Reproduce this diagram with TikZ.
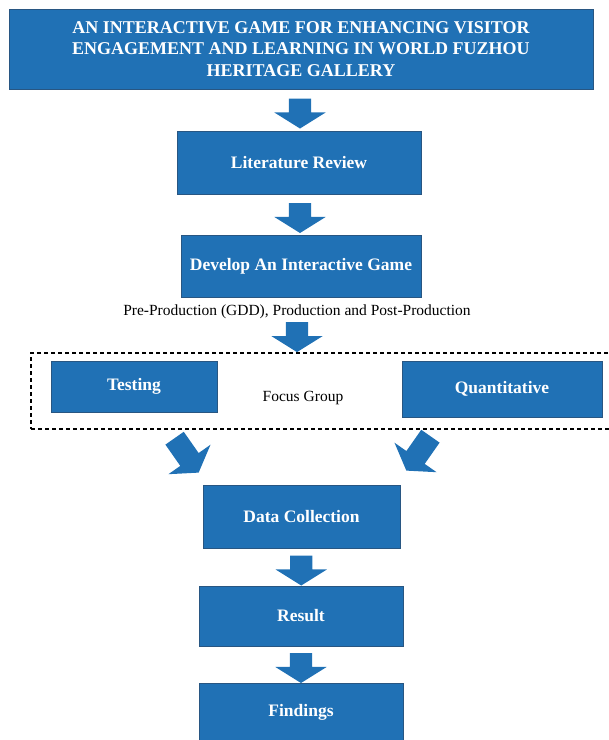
\documentclass[tikz,border=0pt]{standalone}
\usepackage{fontspec}
\setmainfont{Liberation Serif}
\usetikzlibrary{calc,shapes.arrows}
\definecolor{boxblue}{RGB}{32,113,181}
\definecolor{boxline}{RGB}{40,86,130}
\begin{document}
\begin{tikzpicture}[x=1pt,y=-1pt,
    box/.style={draw=boxline, fill=boxblue, text=white, inner sep=0pt, align=center,
      font=\fontsize{17.5}{21.5}\selectfont\bfseries},
    blockarrow/.style={single arrow, fill=boxblue, draw=none, inner xsep=0pt, inner ysep=11pt,
      minimum height=30, minimum width=51, single arrow head extend=14.5,
      single arrow tip angle=116},
    note/.style={font=\fontsize{15.5}{18}\selectfont}]
  \useasboundingbox (0,0) rectangle (609,740);
  % main column
  \node[box, minimum width=584, minimum height=80, font=\fontsize{18}{21.5}\selectfont\bfseries] (title) at (301,49)
    {AN INTERACTIVE GAME FOR ENHANCING VISITOR\\ENGAGEMENT AND LEARNING IN WORLD FUZHOU\\HERITAGE GALLERY};
  \node[box, minimum width=244, minimum height=63] (lit) at (299,162.5) {Literature Review};
  \node[box, minimum width=240, minimum height=62] (dev) at (301,266) {Develop An Interactive Game};
  \node[note] (pre) at (297,312) {Pre-Production (GDD), Production and Post-Production};
  % focus group
  \node[draw, dashed, line width=1.3pt, dash pattern=on 4pt off 3pt, minimum width=590,
    minimum height=76, inner sep=0pt] (grp) at (326,391) {};
  \node[box, minimum width=166, minimum height=51] (test) at (134,386.5) {Testing};
  \node[note] (focus) at (303,398) {Focus Group};
  \node[box, minimum width=200, minimum height=56] (quant) at (502,389) {Quantitative};
  \node[box, minimum width=197, minimum height=63] (data) at (301.5,516.5) {Data Collection};
  \node[box, minimum width=204, minimum height=60] (res) at (301,616) {Result};
  \node[box, minimum width=204, minimum height=58] (find) at (301,712) {Findings};
  % arrows
  \foreach \a/\b in {title/lit, lit/dev, data/res, res/find}
    \node[blockarrow, rotate=-90] (arr-\a) at ($(\a.south)!0.5!(\b.north)$) {};
  \node[blockarrow, rotate=-90, anchor=tip] (arr-pre) at (pre.south |- grp.north) {};
  \node[blockarrow, minimum height=42, rotate=-55, anchor=tip] (arr-test)
    at ($(data.north west)+(-4,-12)$) {};
  \node[blockarrow, minimum height=42, rotate=-125, anchor=tip] (arr-quant)
    at ($(data.north east)+(6,-14)$) {};
\end{tikzpicture}
\end{document}
